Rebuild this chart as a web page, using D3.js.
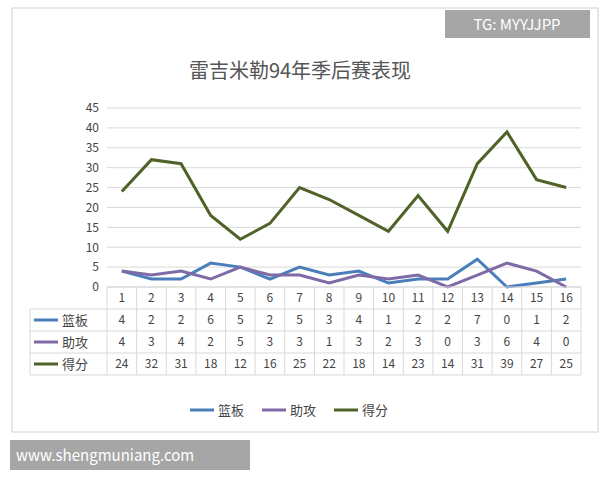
<!DOCTYPE html><html><head><meta charset="utf-8"><script src="https://cdn.jsdelivr.net/npm/d3@7"></script>
<style>body{margin:0;background:#fff}text{font-family:"Noto Sans CJK SC","DejaVu Sans",sans-serif}</style></head><body>
<svg id="c" width="600" height="480"></svg>
<script>
const games=["1","2","3","4","5","6","7","8","9","10","11","12","13","14","15","16"];
const rebounds=[4,2,2,6,5,2,5,3,4,1,2,2,7,0,1,2];
const assists=[4,3,4,2,5,3,3,1,3,2,3,0,3,6,4,0];
const points=[24,32,31,18,12,16,25,22,18,14,23,14,31,39,27,25];
const yTicks=[0,5,10,15,20,25,30,35,40,45];
const seriesNames=["篮板","助攻","得分"];
const colors=["#4a7ebb","#7e6ba6","#4f6228"];
const data=[rebounds,assists,points];
const svg=d3.select("#c");
svg.append("rect").attr("x",12).attr("y",8).attr("width",586).attr("height",424).attr("fill","#fff").attr("stroke","#d0d0d0");
svg.append("text").attr("x",300).attr("y",78).attr("text-anchor","middle").attr("font-size",20).attr("fill","#555").attr("font-family","serif").text("雷吉米勒94年季后赛表现");
const L=107,R=581,T=108,B=287;
const x=d3.scaleBand().domain(games).range([L,R]);
const y=d3.scaleLinear().domain([0,45]).range([B,T]);
svg.append("g").selectAll("line").data(yTicks).join("line").attr("x1",L).attr("x2",R).attr("y1",d=>y(d)).attr("y2",d=>y(d)).attr("stroke","#d9d9d9");
svg.append("g").attr("transform",`translate(${L},0)`).call(d3.axisLeft(y).tickValues(yTicks).tickSize(0).tickPadding(8)).call(g=>g.select(".domain").remove()).selectAll("text").attr("font-size",12).attr("fill","#444");
data.forEach((s,i)=>{
 svg.append("path").datum(s).attr("fill","none").attr("stroke",colors[i]).attr("stroke-width",3)
 .attr("d",d3.line().x((d,j)=>x(games[j])+x.bandwidth()/2).y(d=>y(d)));
});
// table
const rowH=22, tTop=B;
const g=svg.append("g");
for(let r=0;r<=4;r++){g.append("line").attr("x1",r==0?L:30).attr("x2",R).attr("y1",tTop+r*rowH).attr("y2",tTop+r*rowH).attr("stroke","#d9d9d9");}
g.append("line").attr("x1",30).attr("x2",30).attr("y1",tTop+rowH).attr("y2",tTop+4*rowH).attr("stroke","#d9d9d9");
games.forEach(c=>{g.append("line").attr("x1",x(c)).attr("x2",x(c)).attr("y1",tTop).attr("y2",tTop+4*rowH).attr("stroke","#d9d9d9");});
g.append("line").attr("x1",R).attr("x2",R).attr("y1",tTop).attr("y2",tTop+4*rowH).attr("stroke","#d9d9d9");
games.forEach(c=>g.append("text").attr("x",x(c)+x.bandwidth()/2).attr("y",tTop+15).attr("text-anchor","middle").attr("font-size",12).attr("fill","#444").text(c));
data.forEach((s,i)=>{
 const yy=tTop+(i+1)*rowH;
 g.append("line").attr("x1",34).attr("x2",58).attr("y1",yy+11).attr("y2",yy+11).attr("stroke",colors[i]).attr("stroke-width",3);
 g.append("text").attr("x",62).attr("y",yy+16).attr("font-size",13).attr("fill","#444").text(seriesNames[i]);
 s.forEach((v,j)=>g.append("text").attr("x",x(games[j])+x.bandwidth()/2).attr("y",yy+15).attr("text-anchor","middle").attr("font-size",12).attr("fill","#444").text(v));
});
// legend
const lx=[190,262,334];
seriesNames.forEach((n,i)=>{
 svg.append("line").attr("x1",lx[i]).attr("x2",lx[i]+24).attr("y1",410).attr("y2",410).attr("stroke",colors[i]).attr("stroke-width",3);
 svg.append("text").attr("x",lx[i]+28).attr("y",415).attr("font-size",13).attr("fill","#444").text(n);
});
// watermarks
svg.append("rect").attr("x",445).attr("y",10).attr("width",145).attr("height",28).attr("fill","#a6a6a6");
svg.append("text").attr("x",517).attr("y",30).attr("text-anchor","middle").attr("font-size",15).attr("fill","#fff").text("TG: MYYJJPP");
svg.append("rect").attr("x",10).attr("y",440).attr("width",240).attr("height",30).attr("fill","#a6a6a6");
svg.append("text").attr("x",16).attr("y",461).attr("font-size",15).attr("fill","#fff").text("www.shengmuniang.com");
</script></body></html>
